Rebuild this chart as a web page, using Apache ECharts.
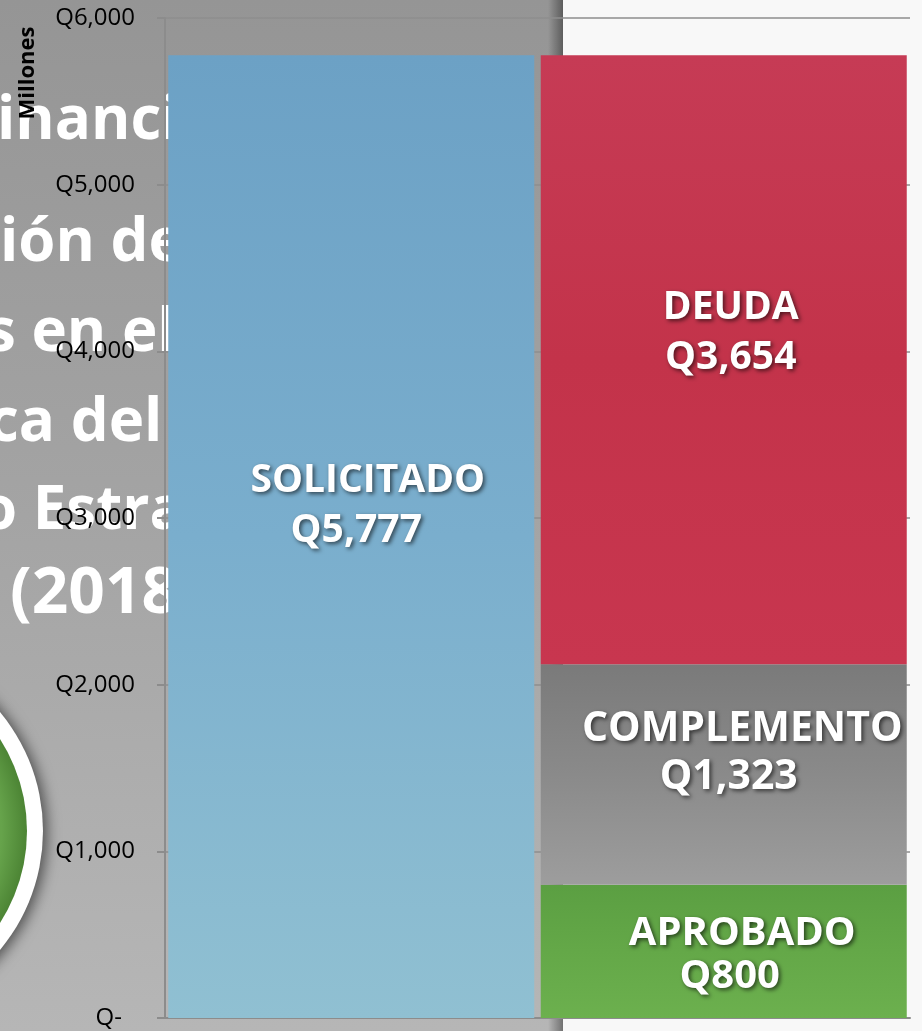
<!DOCTYPE html>
<html>
<head>
<meta charset="utf-8">
<script src="https://cdn.jsdelivr.net/npm/echarts@6/dist/echarts.min.js"></script>
<style>
html,body{margin:0;padding:0;background:#f8f8f8;}
#chart{width:922px;height:1031px;}
</style>
</head>
<body>
<div id="chart"></div>
<script>
// ---- data ----
const categories = ['Solicitado', 'Desglose'];
const seriesNames = ['SOLICITADO', 'APROBADO', 'COMPLEMENTO', 'DEUDA'];
const solicitado = [5777, '-'];
const aprobado = ['-', 800];
const complemento = ['-', 1323];
const deuda = ['-', 3654];
const yMin = 0, yMax = 6000, yStep = 1000;
const axisName = 'Millones';
const ghostLines = ['inanciamiento', 'ión del', 's en el', 'ca del', 'o Estratégico', '(2018-2022)'];

const fmtQ = v => v === 0 ? '{z|Q-}' : '{a|Q' + Number(v).toLocaleString('en-US') + '}';

function mkLabel(fs, lh, pad, off) {
  const shadow = {textShadowColor: 'rgba(0,0,0,0.6)', textShadowBlur: 4, textShadowOffsetX: 2, textShadowOffsetY: 2};
  return {
    show: true, position: 'inside', offset: off,
    formatter: p => '{n|' + p.seriesName + '}\n{v|Q' + Number(p.value).toLocaleString('en-US') + '}',
    rich: {
      n: Object.assign({fontFamily: 'Open Sans', fontWeight: 'bold', fontSize: fs, lineHeight: lh, color: '#fff', padding: [0, 0, 0, pad]}, shadow),
      v: Object.assign({fontFamily: 'Open Sans', fontWeight: 'bold', fontSize: fs, lineHeight: lh, color: '#fff'}, shadow)
    }
  };
}
function vgrad(a, b, c) {
  return new echarts.graphic.LinearGradient(0, 0, 0, 1, [{offset: 0, color: a}, {offset: 0.5, color: b}, {offset: 1, color: c}]);
}

const seriesData = [solicitado, aprobado, complemento, deuda];
const colors = [
  vgrad('#6ca1c5', '#7aaecd', '#90c0d2'),
  vgrad('#5b9f42', '#64a848', '#6cb04e'),
  vgrad('#7a7a7a', '#8a8a8a', '#9d9d9d'),
  vgrad('#c63b55', '#c3334a', '#c8364f')
];
const labels = [
  mkLabel(39, 50, 23, [5, -31]),
  mkLabel(40, 43, 25, [6, 4]),
  mkLabel(41, 48, 27, [5, -21]),
  mkLabel(39, 50, 0, [7, -27])
];

const ghost = [
  {t: ghostLines[0], x: -3, y: 152, fs: 60},
  {t: ghostLines[1], x: 0, y: 274, fs: 60},
  {t: ghostLines[2], x: -14, y: 364, fs: 60},
  {t: ghostLines[3], x: -12, y: 454, fs: 60},
  {t: ghostLines[4], x: -20, y: 542, fs: 60},
  {t: ghostLines[5], x: 10, y: 627, fs: 64}
];

const graphics = [
  {type: 'rect', z: -20, shape: {x: 0, y: 0, width: 563, height: 1031},
   style: {fill: new echarts.graphic.LinearGradient(0, 0, 0, 1, [{offset: 0, color: '#959595'}, {offset: 0.5, color: '#a4a4a4'}, {offset: 1, color: '#b6b6b6'}])}},
  {type: 'rect', z: -19, shape: {x: 548, y: 0, width: 15, height: 1031},
   style: {fill: new echarts.graphic.LinearGradient(0, 0, 1, 0, [{offset: 0, color: 'rgba(0,0,0,0)'}, {offset: 1, color: 'rgba(0,0,0,0.38)'}])}},
  {type: 'rect', z: -20, shape: {x: 563, y: 0, width: 359, height: 1031}, style: {fill: '#f8f8f8'}},
  {type: 'circle', z: -18, shape: {cx: -143, cy: 831, r: 186},
   style: {fill: '#ffffff', shadowBlur: 14, shadowColor: 'rgba(0,0,0,0.55)', shadowOffsetX: 4, shadowOffsetY: 2}},
  {type: 'circle', z: -17, shape: {cx: -143, cy: 831, r: 170},
   style: {fill: new echarts.graphic.RadialGradient(0.5, 0.5, 0.5, [{offset: 0, color: '#72ad55'}, {offset: 0.85, color: '#66a34b'}, {offset: 1, color: '#4c8434'}])}}
];
ghost.forEach(g => graphics.push({
  type: 'text', z: -16, x: g.x, y: g.y,
  style: {text: g.t, fill: '#ffffff', font: 'bold ' + g.fs + 'px "Open Sans"', textAlign: 'left', textVerticalAlign: 'bottom', verticalAlign: 'bottom'}
}));
graphics.push({
  type: 'text', z: 5, x: 28, y: 73, rotation: Math.PI / 2,
  style: {text: axisName, fill: '#000', font: 'bold 22px "Open Sans"', textAlign: 'center', textVerticalAlign: 'middle', align: 'center', verticalAlign: 'middle'}
});

const chart = echarts.init(document.getElementById('chart'), null, {renderer: 'canvas'});
chart.setOption({
  animation: false,
  backgroundColor: 'transparent',
  graphic: {elements: graphics},
  grid: {left: 165, right: 12, top: 18, bottom: 13, containLabel: false},
  xAxis: {
    type: 'category', data: categories,
    axisLabel: {show: false}, axisTick: {show: false},
    axisLine: {show: true, lineStyle: {color: '#8c8c8c', width: 2}}
  },
  yAxis: {
    type: 'value', min: yMin, max: yMax, interval: yStep,
    axisLine: {show: true, lineStyle: {color: '#8c8c8c', width: 2}},
    axisTick: {show: true, length: 8, lineStyle: {color: '#8c8c8c', width: 2}},
    splitLine: {show: true, lineStyle: {color: '#8e8e8e', width: 1.5}},
    axisLabel: {
      margin: 30, fontFamily: 'Open Sans', fontSize: 24, color: '#000',
      formatter: fmtQ,
      rich: {
        a: {fontFamily: 'Open Sans', fontSize: 24, color: '#000'},
        z: {fontFamily: 'Open Sans', fontSize: 24, color: '#000', padding: [0, 13, 0, 0]}
      }
    }
  },
  series: seriesNames.map((n, i) => ({
    name: n, type: 'bar', stack: 'total', data: seriesData[i],
    barWidth: 366,
    itemStyle: {color: colors[i]},
    label: labels[i]
  }))
});
</script>
</body>
</html>
